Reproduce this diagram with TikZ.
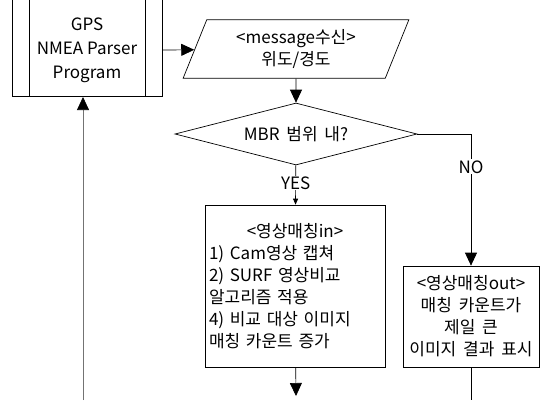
\documentclass[tikz,border=0pt]{standalone}
\usepackage{fontspec}
\setmainfont{Noto Sans CJK KR}
\usetikzlibrary{shapes.geometric,arrows.meta}
\newcommand\chartfont{\fontsize{17}{22}\selectfont\spaceskip=0.4em plus 0.1em\relax}

\begin{document}
\begin{tikzpicture}[x=1pt,y=-1pt,line width=0.7pt,font=\chartfont,
    >={Triangle[length=13pt,width=12pt]}]
  \tikzset{
    box/.style={draw,rectangle,inner sep=0pt},
    io/.style={draw,trapezium,trapezium left angle=68,trapezium right angle=112,
      minimum width=226pt,minimum height=50pt,inner sep=0pt,align=center},
    decision/.style={draw,diamond,shape aspect=4,minimum width=242pt,minimum height=62pt,inner sep=0pt},
    big arrow/.style={->},
    small arrow/.style={-{Triangle[length=6pt,width=5pt]}},
    tag/.style={fill=white,inner sep=1pt}
  }
  \useasboundingbox (0,0) rectangle (540,400);
  % GPS parser (predefined process, top is cut off)
  \node[box,minimum width=150pt,minimum height=130pt,anchor=south] (gps) at (87,97) {};
  \draw ([xshift=18pt]gps.north west) -- ([xshift=18pt]gps.south west);
  \draw ([xshift=-17pt]gps.north east) -- ([xshift=-17pt]gps.south east);
  \node[align=center,font=\fontsize{17}{24}\selectfont] (gpstext) at (87,50) {GPS\\NMEA Parser\\Program};
  \node[io] (msg) at (296,49) {<message수신>\\위도/경도};
  \node[decision] (mbr) at (296,134) {MBR 범위 내?};
  \node[box,minimum width=180pt,minimum height=162pt,text width=172pt,align=left] (in) at (295,286)
    {\hfill<영상매칭in>\hfill\mbox{}\\1) Cam영상 캡쳐\\2) SURF 영상비교\\알고리즘 적용\\4) 비교 대상 이미지\\매칭 카운트 증가};
  \node[box,minimum width=136pt,minimum height=101pt,align=center] (out) at (471,316.5)
    {<영상매칭out>\\매칭 카운트가\\제일 큰\\이미지 결과 표시};
  \coordinate (inend) at (296,396);
  \coordinate (outend) at (471,400);
  \coordinate (loopstart) at (83,400);
  \draw[big arrow] (gps.east |- gpstext) -- (msg);
  \draw[big arrow] (msg) -- (mbr);
  \draw[small arrow] (mbr) -- node[tag,pos=0.45] (yes) {YES} (in);
  \draw[big arrow] (mbr) -| node[tag,pos=0.625] (no) {NO} (out);
  \draw[big arrow] (in) -- (inend);
  \draw (out) -- (outend);
  \draw[black!55,-{Triangle[length=13pt,width=12pt,black]}] (loopstart) -- (loopstart |- gps.south);
\end{tikzpicture}
\end{document}
